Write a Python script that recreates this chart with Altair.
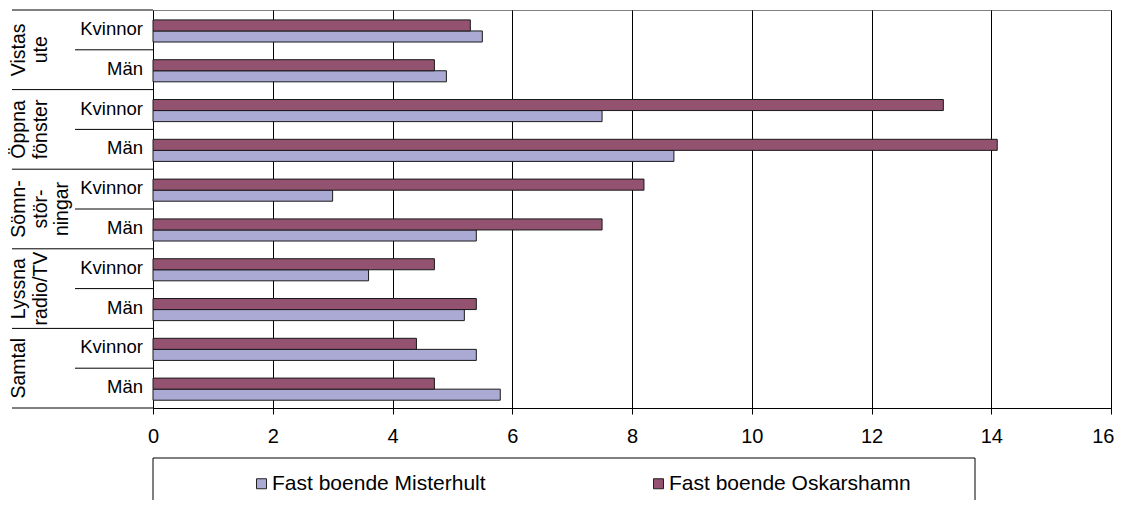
import altair as alt
import pandas as pd

# ---- data ----
grupper = ["Vistas\nute", "Öppna\nfönster", "Sömn-\nstör-\nningar", "Lyssna\nradio/TV", "Samtal"]
kon = ["Kvinnor", "Män"]
serier = ["Fast boende Misterhult", "Fast boende Oskarshamn"]
misterhult_kvinnor = [5.5, 7.5, 3.0, 3.6, 5.4]
misterhult_man = [4.9, 8.7, 5.4, 5.2, 5.8]
oskarshamn_kvinnor = [5.3, 13.2, 8.2, 4.7, 4.4]
oskarshamn_man = [4.7, 14.1, 7.5, 5.4, 4.7]
x_ticks = [0, 2, 4, 6, 8, 10, 12, 14, 16]

FONT = "Liberation Sans"
LAVENDER = "#AAAAD4"
MAROON = "#935270"

bar_rows, row_rows, group_rows, row_keys = [], [], [], []
for i, g in enumerate(grupper):
    base = g.replace("\n", " ")
    vals = {
        "Kvinnor": (misterhult_kvinnor[i], oskarshamn_kvinnor[i]),
        "Män": (misterhult_man[i], oskarshamn_man[i]),
    }
    for k in kon:
        key = f"{base}|{k}"
        row_keys.append(key)
        row_rows.append({"rad": key, "kon": k})
        bar_rows.append({"rad": key, "serie": serier[0], "varde": vals[k][0]})
        bar_rows.append({"rad": key, "serie": serier[1], "varde": vals[k][1]})
    group_rows.append({"grupp": g, "rad": f"{base}|Män"})

bars_df = pd.DataFrame(bar_rows)
rows_df = pd.DataFrame(row_rows)
groups_df = pd.DataFrame(group_rows)
last_df = pd.DataFrame([row_rows[-1]])

yscale = alt.Scale(domain=row_keys, paddingInner=0, paddingOuter=0)
last_tick = f"datum.value == {x_ticks[-1]}"

bars = alt.Chart(bars_df).mark_bar(stroke="#1a1a1a", strokeWidth=1).encode(
    x=alt.X(
        "varde:Q",
        scale=alt.Scale(domain=[0, 16], nice=False),
        axis=alt.Axis(
            values=x_ticks, title=None, grid=True, gridColor="black", gridWidth=1,
            tickSize=6, tickColor="black", domainColor="black", labelPadding=12,
            labelFontSize=20, labelColor="black", labelFont=FONT, format="d",
            labelAlign={"condition": {"test": last_tick, "value": "right"}, "value": "center"},
            labelOffset={"condition": {"test": last_tick, "value": 3}, "value": 0},
        ),
    ),
    y=alt.Y(
        "rad:N", scale=yscale,
        axis=alt.Axis(title=None, ticks=False, grid=False, labels=False, domainColor="black"),
    ),
    yOffset=alt.YOffset(
        "serie:N",
        scale=alt.Scale(domain=[serier[1], serier[0]], paddingInner=0, paddingOuter=0.8, align=0.56),
    ),
    color=alt.Color(
        "serie:N",
        scale=alt.Scale(domain=serier, range=[LAVENDER, MAROON]),
        legend=alt.Legend(
            orient="none", legendX=98, legendY=463, direction="horizontal",
            title=None, symbolType="square", symbolSize=100,
            symbolStrokeColor="#222222", symbolStrokeWidth=1,
            labelFontSize=21, labelFont=FONT, labelColor="black", labelOffset=0,
            labelLimit=400, columnPadding=162, padding=0,
        ),
    ),
)

# inner category labels (Kvinnor / Män)
inner_text = alt.Chart(rows_df).mark_text(
    align="right", baseline="middle", fontSize=18.5, font=FONT, color="black", dy=-1,
).encode(
    y=alt.Y("rad:N", scale=yscale, axis=None),
    x=alt.value(-10),
    text="kon:N",
)

# separators in the hierarchical category axis
group_rules = alt.Chart(rows_df).transform_filter("datum.kon == 'Kvinnor'").mark_rule(
    color="black", strokeWidth=1
).encode(
    y=alt.Y("rad:N", scale=yscale, bandPosition=0, axis=None),
    x=alt.value(-141), x2=alt.value(0),
)
inner_rules = alt.Chart(rows_df).transform_filter("datum.kon == 'Män'").mark_rule(
    color="black", strokeWidth=1
).encode(
    y=alt.Y("rad:N", scale=yscale, bandPosition=0, axis=None),
    x=alt.value(-78), x2=alt.value(0),
)
bottom_rule = alt.Chart(last_df).mark_rule(color="black", strokeWidth=1).encode(
    y=alt.Y("rad:N", scale=yscale, bandPosition=1, axis=None),
    x=alt.value(-141), x2=alt.value(0),
)

group_text = alt.Chart(groups_df).mark_text(
    angle=270, align="center", baseline="top", lineBreak="\n",
    fontSize=19.5, lineHeight=21.5, font=FONT, color="black",
).encode(
    y=alt.Y("rad:N", scale=yscale, bandPosition=0, axis=None),
    x=alt.value(-143),
    text="grupp:N",
)

legend_box = alt.Chart(pd.DataFrame({"ram": [0]})).mark_rect(
    fillOpacity=0, stroke="black", strokeWidth=1
).encode(
    x=alt.value(0), x2=alt.value(822), y=alt.value(448), y2=alt.value(540),
)

chart = alt.layer(
    bars, inner_text, group_rules, inner_rules, bottom_rule, group_text, legend_box
).properties(
    width=958, height=398,
    autosize=alt.AutoSizeParams(type="none"),
    padding={"left": 145, "top": 2, "right": 3, "bottom": 92},
    background="white",
).configure(font=FONT).configure_view(stroke="#808080", strokeWidth=1)

chart.save("out.html", embed_options={"renderer": "svg", "actions": False})
